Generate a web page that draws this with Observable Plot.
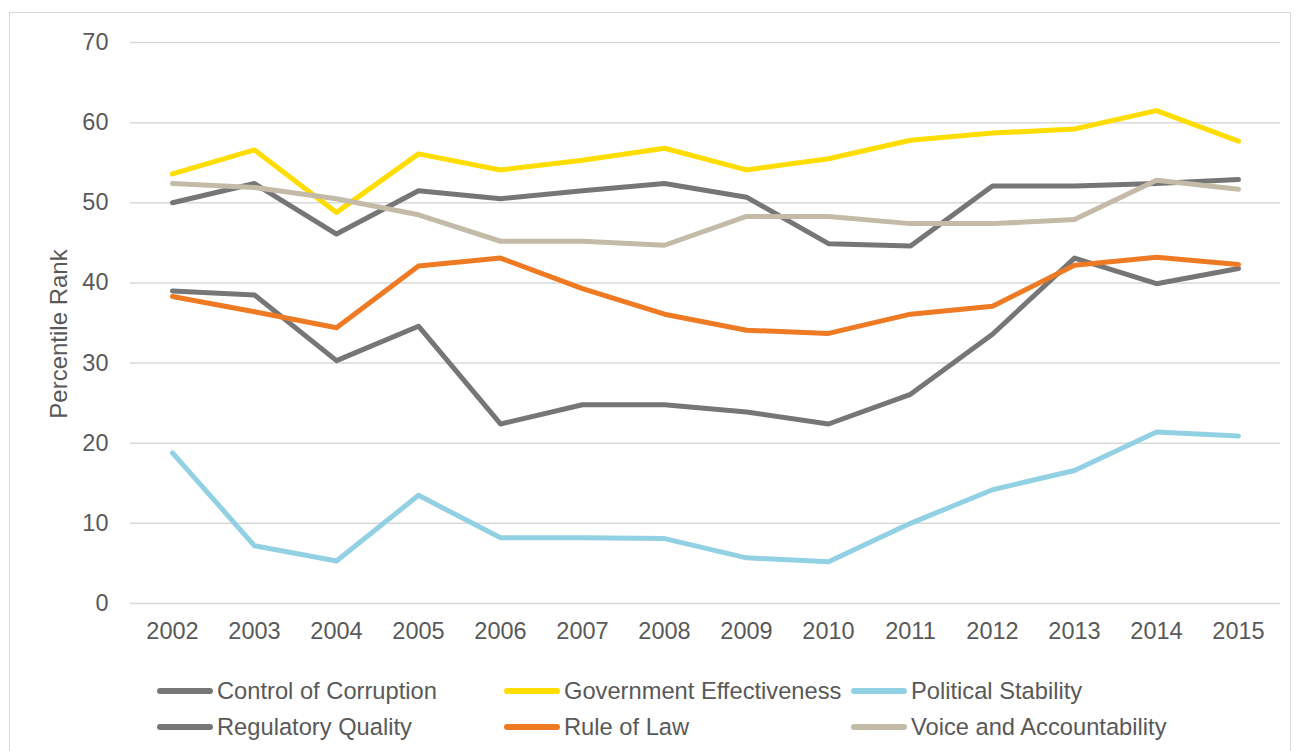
<!DOCTYPE html>
<html>
<head>
<meta charset="utf-8">
<script src="https://cdn.jsdelivr.net/npm/d3@7"></script>
<script src="https://cdn.jsdelivr.net/npm/@observablehq/plot@0.6"></script>
<style>
  html, body { margin: 0; padding: 0; background: #fff; }
  body { width: 1296px; height: 751px; overflow: hidden; position: relative; font-family: "Liberation Sans", Arial, sans-serif; }
  #frame { position: absolute; left: 9px; top: 12px; width: 1282px; height: 780px; border: 1px solid #d9d9d9; box-sizing: border-box; }
  #chart { position: absolute; left: 0; top: 0; }
  #legend { position: absolute; left: 157px; top: 677px; display: grid; grid-template-columns: 347px 347px 347px; grid-auto-rows: 36px; }
  .item { display: flex; align-items: center; height: 28px; font-size: 23.7px; color: #595959; white-space: nowrap; }
  .sw { width: 56px; height: 6px; border-radius: 3px; margin-right: 4px; flex: none; }
</style>
</head>
<body>
<div id="frame"></div>
<div id="chart"></div>
<div id="legend"></div>
<script>
const years = [2002,2003,2004,2005,2006,2007,2008,2009,2010,2011,2012,2013,2014,2015];
const seriesNames = ["Control of Corruption","Government Effectiveness","Political Stability","Regulatory Quality","Rule of Law","Voice and Accountability"];
const seriesColors = ["#767676","#FFDD00","#92D1E3","#767676","#EE7A24","#C3BBA7"];
const controlOfCorruption     = [39.0,38.5,30.3,34.6,22.4,24.8,24.8,23.9,22.4,26.1,33.6,43.1,39.9,41.8];
const governmentEffectiveness = [53.6,56.6,48.8,56.1,54.1,55.3,56.8,54.1,55.5,57.8,58.7,59.2,61.5,57.7];
const politicalStability      = [18.8,7.2,5.3,13.5,8.2,8.2,8.1,5.7,5.2,10.0,14.2,16.6,21.4,20.9];
const regulatoryQuality       = [50.0,52.4,46.1,51.5,50.5,51.5,52.4,50.7,44.9,44.6,52.1,52.1,52.4,52.9];
const ruleOfLaw               = [38.3,36.4,34.4,42.1,43.1,39.3,36.1,34.1,33.7,36.1,37.1,42.2,43.2,42.3];
const voiceAndAccountability  = [52.4,51.9,50.5,48.5,45.2,45.2,44.7,48.3,48.3,47.4,47.4,47.9,52.8,51.7];
const yTicks = [0,10,20,30,40,50,60,70];
const yTitle = "Percentile Rank";

const seriesValues = [controlOfCorruption, governmentEffectiveness, politicalStability, regulatoryQuality, ruleOfLaw, voiceAndAccountability];
const table = [];
seriesNames.forEach((name, i) => {
  years.forEach((yr, j) => table.push({series: name, year: String(yr), value: seriesValues[i][j]}));
});

const plot = Plot.plot({
  width: 1296,
  height: 660,
  marginLeft: 130,
  marginRight: 16,
  marginTop: 42,
  marginBottom: 57,
  style: {fontFamily: '"Liberation Sans", Arial, sans-serif', fontSize: "23.5px", color: "#595959", background: "transparent"},
  x: {type: "point", domain: years.map(String), padding: 0.5, label: null},
  y: {domain: [0, 70], label: null},
  color: {domain: seriesNames, range: seriesColors},
  marks: [
    Plot.ruleY(yTicks, {stroke: "#d9d9d9", strokeWidth: 1.5}),
    Plot.axisY(yTicks, {tickSize: 0, tickPadding: 22, fontSize: 23.5, fill: "#595959", label: null}),
    Plot.axisX({tickSize: 0, tickPadding: 19, fontSize: 23.5, fill: "#595959", label: null}),
    Plot.text([yTitle], {frameAnchor: "left", textAnchor: "middle", dx: -71, dy: 11, rotate: -90, fontSize: 24, fill: "#595959"}),
    Plot.line(table, {x: "year", y: "value", z: "series", stroke: "series", strokeWidth: 5, strokeLinecap: "round", strokeLinejoin: "round"})
  ]
});
document.getElementById("chart").appendChild(plot);

const legend = document.getElementById("legend");
seriesNames.forEach((name, i) => {
  const item = document.createElement("div");
  item.className = "item";
  const sw = document.createElement("span");
  sw.className = "sw";
  sw.style.background = seriesColors[i];
  const label = document.createElement("span");
  label.textContent = name;
  item.appendChild(sw);
  item.appendChild(label);
  legend.appendChild(item);
});
</script>
</body>
</html>
